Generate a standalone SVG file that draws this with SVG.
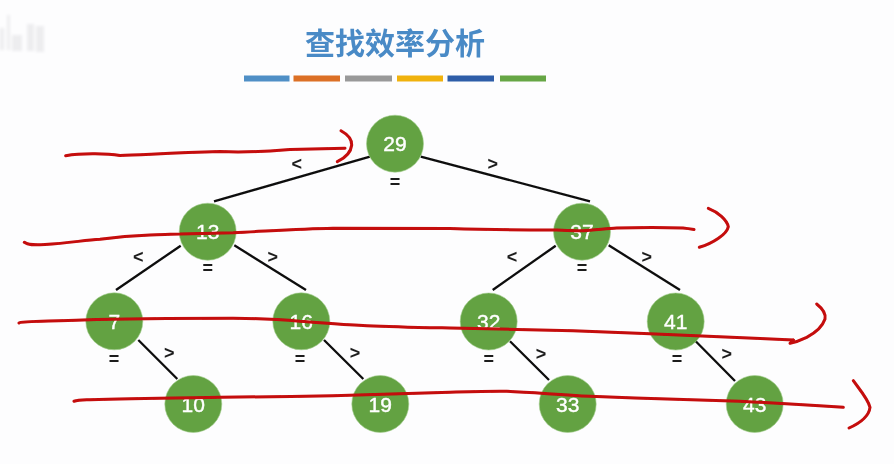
<svg xmlns="http://www.w3.org/2000/svg" width="894" height="464" viewBox="0 0 894 464">
<style>
.title{font:700 30px "Noto Sans CJK SC","Noto Sans",sans-serif;fill:#4a8ac6;text-anchor:middle}
.n{fill:#63a242;stroke:#a5cf90;stroke-width:.6}
.t{font:21px "Liberation Sans",Arial,sans-serif;fill:#fff;stroke:#fff;stroke-width:.4;text-anchor:middle}
.l{font:bold 18px "Liberation Sans",Arial,sans-serif;fill:#1c1c1c;text-anchor:middle}
.e{stroke:#0c0c0c;stroke-width:2.3;fill:none}
.r{stroke:#c40808;stroke-width:3;fill:none;stroke-linecap:round;stroke-linejoin:round}
</style>
<defs><filter id="soft" x="-2%" y="-2%" width="104%" height="104%"><feGaussianBlur stdDeviation="0.4"/></filter>
<filter id="smudge" x="-20%" y="-20%" width="140%" height="140%"><feGaussianBlur stdDeviation="1.5"/></filter></defs>
<rect width="894" height="464" fill="#fdfdfe"/>
<g id="watermark" fill="#ededef" filter="url(#smudge)"><rect x="0" y="28" width="4" height="22"/><rect x="7" y="15" width="3" height="35"/><rect x="12" y="35" width="10" height="16"/><rect x="27" y="24" width="7" height="27"/><rect x="36" y="26" width="8" height="26"/></g>
<g filter="url(#soft)">
<text id="title" class="title" x="395" y="54">查找效率分析</text>
<g id="bars">
<rect x="244" y="75.5" width="45.500" height="6" fill="#4f8fc6"/>
<rect x="293.500" y="75.500" width="46.500" height="6" fill="#dc6f27"/>
<rect x="345" y="75.500" width="47" height="6" fill="#999"/>
<rect x="397" y="75.500" width="46" height="6" fill="#f0b210"/>
<rect x="447.500" y="75.500" width="46.500" height="6" fill="#2f5da8"/>
<rect x="500" y="75.500" width="46" height="6" fill="#66a644"/>
</g>
<g id="connectors">
<path class="e" d="M370 156.700L214 201.300M420.700 156.700L590 201.300M180.700 245.700L116 290M234.300 245.300L306 290M555.700 245.700L492.700 290M608.700 245.300L680 290M138.300 340L177.300 379M324 340L363.300 379M510 341.300L549 380M695.700 341.300L735 381"/>
<text class="l" x="296.700" y="169.500">&lt;</text><text class="l" x="492.700" y="169.500">&gt;</text>
<text class="l" x="138.300" y="263">&lt;</text><text class="l" x="272.700" y="263">&gt;</text>
<text class="l" x="512" y="263">&lt;</text><text class="l" x="646.700" y="263">&gt;</text>
<text class="l" x="169.300" y="358.500">&gt;</text><text class="l" x="355" y="358.500">&gt;</text>
<text class="l" x="541" y="359.500">&gt;</text><text class="l" x="726.700" y="359.500">&gt;</text>
</g>
<g id="n29"><circle class="n" cx="395" cy="143.700" r="28.500"/><text class="t" x="395" y="151">29</text><text class="l" x="395" y="187.500">=</text></g>
<g id="n13"><circle class="n" cx="207.700" cy="231.700" r="28.500"/><text class="t" x="207.700" y="239">13</text><text class="l" x="207.700" y="273.500">=</text></g>
<g id="n37"><circle class="n" cx="582" cy="231.700" r="28.500"/><text class="t" x="582" y="239">37</text><text class="l" x="582" y="273.500">=</text></g>
<g id="n7"><circle class="n" cx="114.300" cy="321.300" r="28.500"/><text class="t" x="114.300" y="328.500">7</text><text class="l" x="114" y="364.500">=</text></g>
<g id="n16"><circle class="n" cx="301.300" cy="321.300" r="28.500"/><text class="t" x="301.300" y="328.500">16</text><text class="l" x="300" y="364.500">=</text></g>
<g id="n32"><circle class="n" cx="488.700" cy="321.500" r="28.500"/><text class="t" x="488.700" y="328.500">32</text><text class="l" x="488.700" y="364.500">=</text></g>
<g id="n41"><circle class="n" cx="675.700" cy="321.500" r="28.500"/><text class="t" x="675.700" y="328.500">41</text><text class="l" x="677" y="364.500">=</text></g>
<g id="n10"><circle class="n" cx="193.300" cy="404" r="28.500"/><text class="t" x="193.300" y="411.500">10</text></g>
<g id="n19"><circle class="n" cx="380.300" cy="404" r="28.500"/><text class="t" x="380.300" y="411.500">19</text></g>
<g id="n33"><circle class="n" cx="567.700" cy="404" r="28.500"/><text class="t" x="567.700" y="411.500">33</text></g>
<g id="n43"><circle class="n" cx="754.700" cy="404" r="28.500"/><text class="t" x="754.700" y="411.500">43</text></g>
<g id="ink">
<path class="r" d="M65.700 155.700C80 153.500 105 153 120 155.500C140 155 170 153 220 151.500C240 152.500 260 152 290 149.500C310 149 330 148.500 345 148.300"/>
<path class="r" d="M341 130.700C347 134 352 139 351.700 145C351 152 345 158 337.300 161.700"/>
<path class="r" d="M24.300 242.300C28 245 33 245.300 45 244.500C70 243 85 240 100 239.300C120 236.500 135 235.500 150 235C165 234.500 175 234 180 234C200 233.500 215 233 233.300 232.700C270 231 300 229 333 228.300C380 228.300 420 228.300 450 228.500C480 229.500 520 230 556.700 230C570 231 582 231 590 230.300C600 229.500 608 228.500 616.700 228C640 227.500 665 227.500 683 228C688 228.500 691 229 694 229.500"/>
<path class="r" d="M708.300 208.300C718 212 727 220 728.300 226.700C727 234 713 243.500 699.300 247.300"/>
<path class="r" d="M19 323C21 321 50 321.500 83 320C130 318.500 190 318.300 233 318.300C260 318.500 280 319.500 300 321.300C320 322.500 345 325 366.700 325.700C395 327 425 327.500 450 328C490 329 530 329.500 573 330.700C610 332 640 333.500 673 334.700C715 336.500 755 338 793.300 340"/>
<path class="r" d="M816.700 304C823 309 826 314 825 319C822 328 815 333 806.700 337.300C801 340 796 342 790 343.300L793.300 340"/>
<path class="r" d="M74 401.300C78 400 84 400 90 399.700C130 398.500 175 398 220 397.300C260 396.800 295 396.500 333 395.700C375 394.500 415 393.500 450 392.300C470 391.700 490 391 506.700 391.300C535 392.500 560 395 590 396.300C640 398 690 400 740 401.300C775 403 810 405 843.300 407.300"/>
<path class="r" d="M853.300 380.700C860 390 868 399 870 407.300C869 416 860 423 849 428"/>
</g>
</g>
</svg>
